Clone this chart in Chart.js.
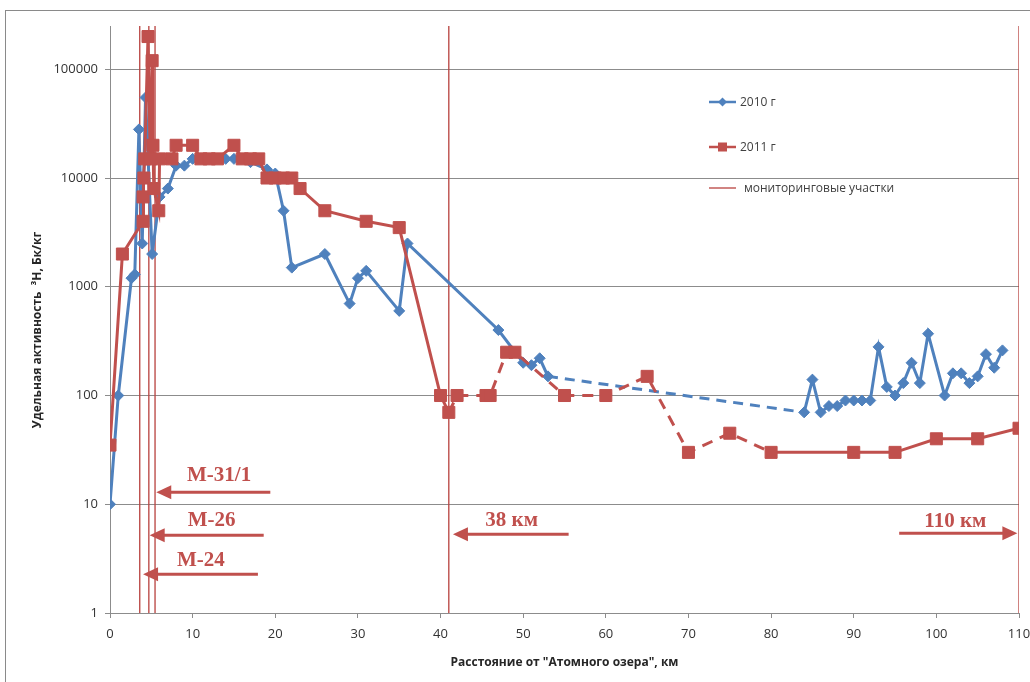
<!DOCTYPE html>
<html>
<head>
<meta charset="utf-8">
<script src="https://cdn.jsdelivr.net/npm/chart.js@4.4.1/dist/chart.umd.min.js"></script>
<style>
  html, body { margin: 0; padding: 0; background: #fff; overflow: hidden; }
  #frame { position: absolute; left: 5px; top: 10px; width: 1040px; height: 700px; border: 1px solid #8a8a8a; }
  #wrap { position: absolute; left: 0; top: 0; width: 1030px; height: 682px; }
</style>
</head>
<body>
<div id="frame"></div>
<div id="wrap"><canvas id="myChart" width="1030" height="682"></canvas></div>
<script>
// 2010 series: distance from "Atomic lake" (km) and tritium activity (Bq/kg)
const km2010 = [0, 1, 2.6, 3, 3.5, 3.9, 4.3, 5.1, 6, 7, 8, 9, 10, 12, 14, 15, 17, 19, 20, 21,
  22, 26, 29, 30, 31, 35, 36, 47, 50, 51, 52, 53, 84, 85, 86, 87, 88, 89, 90, 91,
  92, 93, 94, 95, 96, 97, 98, 99, 101, 102, 103, 104, 105, 106, 107, 108];
const act2010 = [10, 100, 1200, 1300, 28000, 2500, 55000, 2000, 6700, 8000, 13000, 13000, 15000, 15000, 15000, 15000, 14000, 12000, 11000, 5000,
  1500, 2000, 700, 1200, 1400, 600, 2500, 400, 200, 190, 220, 150, 70, 140, 70, 80, 80, 90, 90, 90,
  90, 280, 120, 100, 130, 200, 130, 370, 100, 160, 160, 130, 150, 240, 180, 260];

// 2011 series
const km2011 = [0, 1.5, 4, 4, 4.1, 4.2, 4.6, 4.9, 5.1, 5.2, 5.3, 5.9, 6, 7.5, 8, 10, 11, 12, 13, 15,
  16, 17, 18, 19, 20, 21, 22, 23, 26, 31, 35, 40, 41, 42, 45.5, 46, 48, 49, 55, 60,
  65, 70, 75, 80, 90, 95, 100, 105, 110];
const act2011 = [35, 2000, 4000, 6700, 10000, 15000, 200000, 15000, 120000, 20000, 8000, 5000, 15000, 15000, 20000, 20000, 15000, 15000, 15000, 20000,
  15000, 15000, 15000, 10000, 10000, 10000, 10000, 8000, 5000, 4000, 3500, 100, 70, 100, 100, 100, 250, 250, 100, 100,
  150, 30, 45, 30, 30, 30, 40, 40, 50];

// stretches drawn dashed (no sampling in between)
const dash2010 = [[53, 84]];
const dash2011 = [[41, 80]];

// monitoring sites (vertical lines), km
const monitorKm = [3.6, 4.7, 5.45, 41, 110];

const yTicks = [1, 10, 100, 1000, 10000, 100000];
const yMin = 1, yMax = 250000;

// arrow notes: label position and arrow from -> to (km), at activity level
const notes = [
  { text: 'М-31/1', tx: 13.2, ty: 16.4, from: 19.4, to: 5.6, ay: 12.9 },
  { text: 'М-26', tx: 12.3, ty: 6.35, from: 18.6, to: 4.8, ay: 5.2 },
  { text: 'М-24', tx: 11.0, ty: 2.7, from: 17.9, to: 4.0, ay: 2.27 },
  { text: '38 км', tx: 48.6, ty: 6.35, from: 55.5, to: 41.5, ay: 5.3 },
  { text: '110 км', tx: 102.3, ty: 6.2, from: 95.5, to: 109.8, ay: 5.4 }
];

const BLUE = '#4F81BD';
const RED = '#C0504D';
const LINE_RED = '#B8413E';
const GRID = '#8c8c8c';
const FONT = "'Open Sans', 'Liberation Sans', sans-serif";

const toPoints = (xs, ys) => xs.map((x, i) => ({ x: x, y: ys[i] }));
const dashed = (ranges, pattern) => ctx => {
  const a = ctx.p0.parsed.x, b = ctx.p1.parsed.x;
  return ranges.some(r => a >= r[0] && b <= r[1]) ? pattern : undefined;
};

const monitorData = [];
monitorKm.forEach(x => {
  monitorData.push({ x: x, y: yMin }, { x: x, y: yMax }, { x: x, y: null });
});

function drawArrow(ctx, x0, x1, yy) {
  const dir = x1 > x0 ? 1 : -1;
  const head = 15, half = 7;
  ctx.beginPath();
  ctx.moveTo(x0, yy);
  ctx.lineTo(x1 - dir * (head - 2), yy);
  ctx.stroke();
  ctx.beginPath();
  ctx.moveTo(x1, yy);
  ctx.lineTo(x1 - dir * head, yy - half);
  ctx.lineTo(x1 - dir * head, yy + half);
  ctx.closePath();
  ctx.fill();
}

const extras = {
  id: 'extras',
  afterDraw(chart) {
    const ctx = chart.ctx;
    const x = chart.scales.x, y = chart.scales.y;
    const area = chart.chartArea;
    ctx.save();

    // arrows with site labels
    ctx.strokeStyle = RED;
    ctx.fillStyle = RED;
    ctx.lineWidth = 3;
    notes.forEach(n => {
      drawArrow(ctx, x.getPixelForValue(n.from), x.getPixelForValue(n.to), y.getPixelForValue(n.ay));
      ctx.font = "bold 21px 'Liberation Serif', serif";
      ctx.textAlign = 'center';
      ctx.textBaseline = 'alphabetic';
      ctx.fillText(n.text, x.getPixelForValue(n.tx), y.getPixelForValue(n.ty));
    });

    // legend
    const lx = 709, lw = 27;
    ctx.font = '12px ' + FONT;
    ctx.textAlign = 'left';
    ctx.textBaseline = 'middle';
    const items = [
      { label: '2010 г', color: BLUE, marker: 'diamond', yy: 102, width: 2.5 },
      { label: '2011 г', color: RED, marker: 'square', yy: 147, width: 2.5 },
      { label: 'мониторинговые участки', color: LINE_RED, marker: null, yy: 188, width: 1.3 }
    ];
    items.forEach(it => {
      ctx.strokeStyle = it.color;
      ctx.fillStyle = it.color;
      ctx.lineWidth = it.width;
      ctx.beginPath();
      ctx.moveTo(lx, it.yy);
      ctx.lineTo(lx + lw, it.yy);
      ctx.stroke();
      const cx = lx + lw / 2;
      if (it.marker === 'diamond') {
        ctx.beginPath();
        ctx.moveTo(cx - 4.5, it.yy);
        ctx.lineTo(cx, it.yy - 4.5);
        ctx.lineTo(cx + 4.5, it.yy);
        ctx.lineTo(cx, it.yy + 4.5);
        ctx.closePath();
        ctx.fill();
      } else if (it.marker === 'square') {
        ctx.fillRect(cx - 4.5, it.yy - 4.5, 9, 9);
      }
      ctx.fillStyle = '#404040';
      ctx.fillText(it.label, lx + lw + (it.marker ? 4 : 8), it.yy + 1);
    });

    // axis titles
    ctx.fillStyle = '#262626';
    ctx.font = 'bold 12px ' + FONT;
    ctx.textAlign = 'center';
    ctx.textBaseline = 'middle';
    ctx.fillText('Расстояние от "Атомного озера", км', (area.left + area.right) / 2, 663);
    ctx.translate(38, 330);
    ctx.rotate(-Math.PI / 2);
    ctx.fillText('Удельная активность  ³H, Бк/кг', 0, 0);

    ctx.restore();
  }
};

const chartArea = document.getElementById('myChart').getContext('2d');
const myChart = new Chart(chartArea, {
  type: 'line',
  data: {
    datasets: [{
      label: '2011 г',
      data: toPoints(km2011, act2011),
      borderColor: RED,
      backgroundColor: RED,
      pointBackgroundColor: RED,
      pointBorderColor: RED,
      borderWidth: 3,
      pointStyle: 'rect',
      pointRadius: 8.5,
      pointBorderWidth: 1,
      tension: 0,
      order: 0,
      segment: { borderDash: dashed(dash2011, [11, 8]) }
    }, {
      label: '2010 г',
      data: toPoints(km2010, act2010),
      borderColor: BLUE,
      backgroundColor: BLUE,
      pointBackgroundColor: BLUE,
      pointBorderColor: BLUE,
      borderWidth: 3,
      pointStyle: 'rectRot',
      pointRadius: 5.5,
      pointBorderWidth: 1,
      tension: 0,
      order: 1,
      segment: { borderDash: dashed(dash2010, [10, 7]) }
    }, {
      label: 'мониторинговые участки',
      data: monitorData,
      borderColor: LINE_RED,
      borderWidth: 1.3,
      pointRadius: 0,
      spanGaps: false,
      order: 2
    }]
  },
  options: {
    responsive: false,
    animation: false,
    events: [],
    layout: { padding: { top: 26, right: 11, left: 0, bottom: 0 } },
    scales: {
      x: {
        type: 'linear',
        min: 0,
        max: 110,
        afterFit: s => { s.height = 69; s.paddingLeft = 0; s.paddingRight = 0; },
        ticks: { stepSize: 10, maxRotation: 0, padding: 8, color: '#333', font: { family: FONT, size: 13 } },
        grid: { drawOnChartArea: false, drawTicks: true, tickLength: 5, color: GRID },
        border: { color: GRID }
      },
      y: {
        type: 'logarithmic',
        min: yMin,
        max: yMax,
        afterBuildTicks: s => { s.ticks = yTicks.map(v => ({ value: v })); },
        afterFit: s => { s.width = 110; },
        ticks: { callback: v => String(v), padding: 7, color: '#333', font: { family: FONT, size: 13 } },
        grid: { color: GRID, tickLength: 5 },
        border: { color: GRID }
      }
    },
    plugins: {
      legend: { display: false },
      tooltip: { enabled: false }
    }
  },
  plugins: [extras]
});
</script>
</body>
</html>
